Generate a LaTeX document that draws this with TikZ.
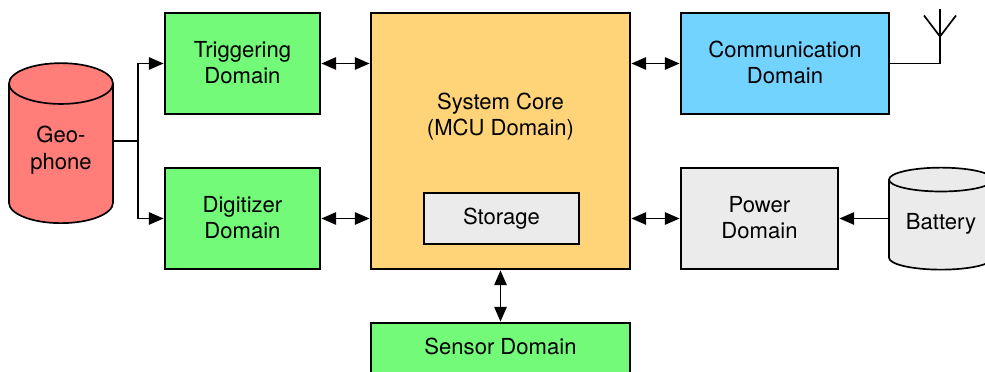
\documentclass[tikz,border=0pt]{standalone}
\usepackage{fontspec}
\setmainfont{TeX Gyre Heros}
\usetikzlibrary{positioning, arrows.meta, shapes.geometric}

\definecolor{domgreen}{HTML}{73FA79}
\definecolor{domblue}{HTML}{73D3FF}
\definecolor{domorange}{HTML}{FFD479}
\definecolor{domred}{HTML}{FF7E79}
\definecolor{domgray}{HTML}{EBEBEB}

\begin{document}
\begin{tikzpicture}[
    every node/.style={font=\fontsize{15.7}{18.85}\selectfont, align=center, outer sep=0pt},
    block/.style={rectangle, draw, line width=1.2pt, minimum width=3.875cm, minimum height=2.525cm, text depth=0.05cm},
    trigger/.style={block, fill=domgreen},
    core/.style={block, fill=domorange, minimum width=6.475cm, minimum height=6.4cm},
    store/.style={block, fill=domgray, minimum height=1.275cm, text depth=0.117cm},
    comm/.style={block, fill=domblue, minimum width=5.2cm},
    power/.style={block, fill=domgray, minimum width=3.925cm},
    sensor/.style={block, fill=domgreen, minimum width=6.475cm, minimum height=1.275cm, text depth=0.1cm},
    can/.style={cylinder, shape border rotate=90, draw, line width=1.2pt, minimum width=2.6cm},
    arrow/.style={line width=1.2pt, -{Triangle[length=3.7mm, width=3.1mm]}, shorten >=1pt},
    biarrow/.style={line width=1.2pt, {Triangle[length=3.7mm, width=3.1mm]}-{Triangle[length=3.7mm, width=3.1mm]}, shorten >=1pt, shorten <=1pt},
    wire/.style={line width=1.2pt}
]

\clip (-12.5125,3.525) rectangle (12.1125,-5.775);

% Centre
\node[core] (mcu) {};
\node[store, below=4.5cm of mcu.north, xshift=0.025cm] (storage) {Storage};
\node[above=1.2cm of storage, xshift=-0.025cm] (mcutext) {System Core\\(MCU Domain)};
\node[sensor, below=1.35cm of mcu] (sensordom) {Sensor Domain};

% Left side
\node[trigger, below left=0cm and 1.275cm of mcu.north west] (trig) {Triggering\\Domain};
\node[trigger, below=1.35cm of trig] (digit) {Digitizer\\Domain};
\node[can, fill=domred, minimum height=4cm, aspect=0.577, text depth=0.5cm, left=1.3cm of mcu.west, xshift=-5.15cm, yshift=-0.425cm] (geo) {Geo-\\phone};

% Right side
\node[comm, below right=0cm and 1.275cm of mcu.north east] (commdom) {Communication\\Domain};
\node[power, below=1.35cm of commdom.south west, anchor=north west] (powerdom) {Power\\Domain};
\node[can, fill=domgray, minimum height=2.55cm, aspect=0.3, text depth=0.3cm, right=1.275cm of powerdom, yshift=-0.225cm] (batt) {Battery};

% Arrows
\draw[biarrow] (trig) -- (trig -| mcu.west);
\draw[biarrow] (digit) -- (digit -| mcu.west);
\draw[biarrow] (commdom -| mcu.east) -- (commdom);
\draw[biarrow] (powerdom -| mcu.east) -- (powerdom);
\draw[biarrow] (mcu) -- (sensordom);
\draw[arrow] (powerdom -| batt.west) -- (powerdom);

% Geophone fork
\coordinate[left=9.0625cm of mcu.center] (fork);
\draw[wire] (fork -| geo.east) -- (fork);
\draw[arrow] (fork) |- (trig);
\draw[arrow] (fork) |- (digit);

% Antenna
\coordinate[xshift=-0.025cm] (antfoot) at (commdom.east -| batt);
\coordinate[above=0.675cm of antfoot] (antroot);
\coordinate[above=1.35cm of antfoot] (anttop);
\coordinate[above left=0.525cm and 0.4cm of antroot] (antleft);
\coordinate[above right=0.525cm and 0.4cm of antroot] (antright);
\draw[wire] (commdom) -- (antfoot) -- (anttop);
\draw[wire] (antleft) -- (antroot) -- (antright);

\end{tikzpicture}
\end{document}
